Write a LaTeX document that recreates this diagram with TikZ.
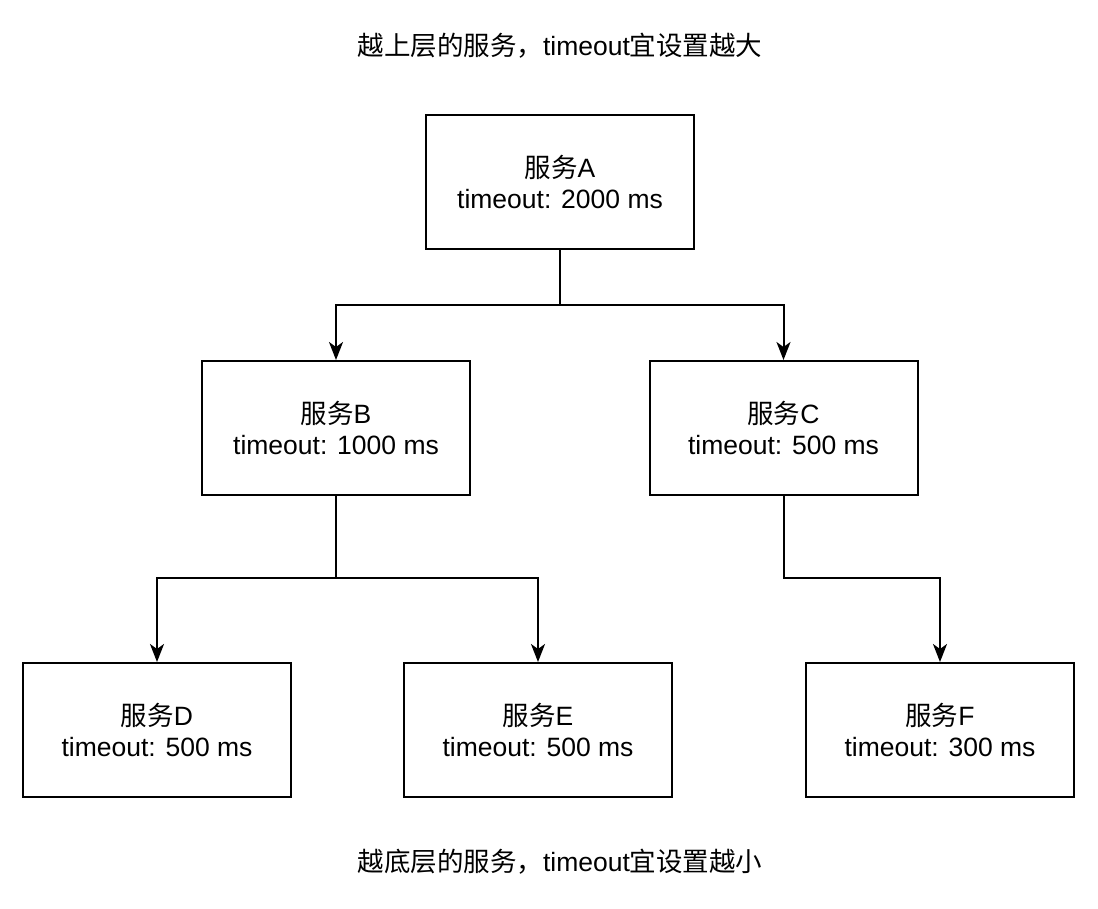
\documentclass[tikz,border=0pt]{standalone}
\usepackage{fontspec}
\setmainfont{Liberation Sans}
\newfontfamily\cjk{Noto Sans CJK SC}
\usetikzlibrary{arrows.meta}
\begin{document}
\begin{tikzpicture}[x=1pt,y=-1pt,
  box/.style={draw,line width=2pt,minimum width=268pt,minimum height=134pt,align=center,font=\fontsize{26.5}{31}\selectfont},
  lbl/.style={font=\fontsize{26.5}{31}\selectfont},
  conn/.style={line width=2pt,-{Stealth[length=18pt,width=14pt,inset=5pt]}}]
\useasboundingbox (0,0) rectangle (1098,908);
\node[lbl] (t1) at (560,46) {{\cjk 越上层的服务，}timeout{\cjk 宜设置越大}};
\node[lbl] (t2) at (560,862) {{\cjk 越底层的服务，}timeout{\cjk 宜设置越小}};
\node[box] (A) at (560,182) {{\cjk 服务}A\\timeout: 2000 ms};
\node[box] (B) at (336,428) {{\cjk 服务}B\\timeout: 1000 ms};
\node[box] (C) at (783.5,428) {{\cjk 服务}C\\timeout: 500 ms};
\node[box] (D) at (157,730) {{\cjk 服务}D\\timeout: 500 ms};
\node[box] (E) at (538,730) {{\cjk 服务}E\\timeout: 500 ms};
\node[box] (F) at (940,730) {{\cjk 服务}F\\timeout: 300 ms};
\draw[conn] (A.south) |- (448,305) -| (B.north);
\draw[conn] (A.south) |- (672,305) -| (C.north);
\draw[conn] (B.south) |- (246,578) -| (D.north);
\draw[conn] (B.south) |- (437,578) -| (E.north);
\draw[conn] (C.south) |- (860,578) -| (F.north);
\end{tikzpicture}
\end{document}
